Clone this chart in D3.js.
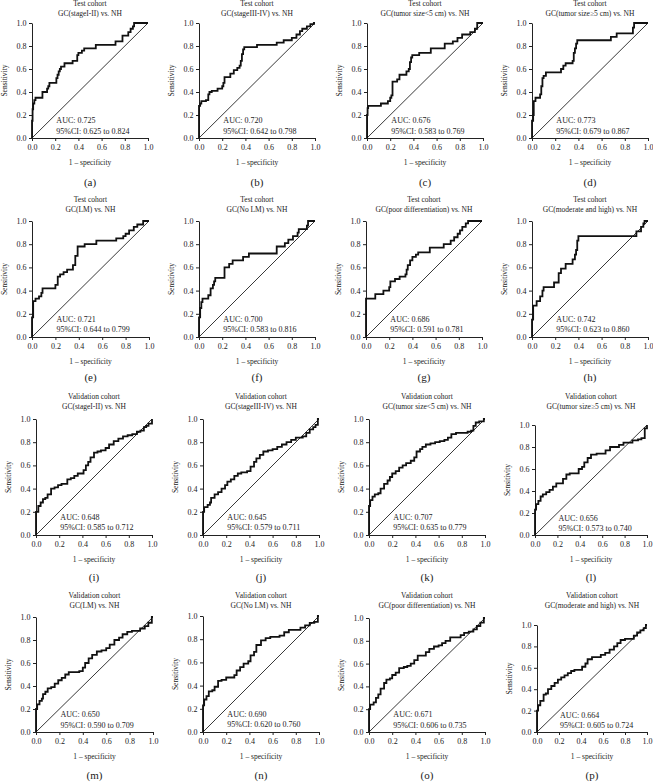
<!DOCTYPE html>
<html><head><meta charset="utf-8">
<script src="https://cdn.jsdelivr.net/npm/d3@7"></script>
<style>
body{margin:0;background:#fff;}
svg text{font-family:"Liberation Serif","DejaVu Serif",serif;fill:#222;}
</style></head>
<body><svg id="c" width="653" height="782"></svg>
<script>
// ---------- data ----------
const cohorts = ["Test cohort","Test cohort","Test cohort","Test cohort","Test cohort","Test cohort","Test cohort","Test cohort",
  "Validation cohort","Validation cohort","Validation cohort","Validation cohort","Validation cohort","Validation cohort","Validation cohort","Validation cohort"];
const groupNames = ["GC(stageI-II) vs. NH","GC(stageIII-IV) vs. NH","GC(tumor size<5 cm) vs. NH","GC(tumor size\u22655 cm) vs. NH",
  "GC(LM) vs. NH","GC(No LM) vs. NH","GC(poor differentiation) vs. NH","GC(moderate and high) vs. NH"];
const aucValues = ["0.725","0.720","0.676","0.773","0.721","0.700","0.686","0.742","0.648","0.645","0.707","0.656","0.650","0.690","0.671","0.664"];
const ciValues = ["0.625 to 0.824","0.642 to 0.798","0.583 to 0.769","0.679 to 0.867","0.644 to 0.799","0.583 to 0.816","0.591 to 0.781","0.623 to 0.860",
  "0.585 to 0.712","0.579 to 0.711","0.635 to 0.779","0.573 to 0.740","0.590 to 0.709","0.620 to 0.760","0.606 to 0.735","0.605 to 0.724"];
const panelLetters = ["a","b","c","d","e","f","g","h","i","j","k","l","m","n","o","p"];
const ticks = [0,0.2,0.4,0.6,0.8,1.0];

// ROC points [1-specificity, sensitivity] (step after)
const rocA = [[0,0],[0,0.15],[0.005,0.25],[0.01,0.3],[0.02,0.33],[0.03,0.35],[0.09,0.4],[0.13,0.43],[0.14,0.45],[0.15,0.48],[0.21,0.52],[0.22,0.55],[0.23,0.58],[0.24,0.6],[0.25,0.62],[0.28,0.65],[0.35,0.67],[0.39,0.72],[0.40,0.74],[0.43,0.76],[0.45,0.78],[0.55,0.81],[0.72,0.84],[0.78,0.89],[0.83,0.92],[0.85,0.95],[0.87,0.97],[0.88,1.0],[1,1]];
const rocB = [[0,0],[0,0.28],[0.01,0.3],[0.02,0.32],[0.06,0.33],[0.08,0.38],[0.09,0.4],[0.11,0.41],[0.16,0.43],[0.2,0.45],[0.21,0.48],[0.22,0.53],[0.27,0.56],[0.3,0.59],[0.33,0.61],[0.35,0.63],[0.36,0.67],[0.37,0.73],[0.38,0.77],[0.39,0.79],[0.5,0.81],[0.67,0.83],[0.73,0.85],[0.8,0.87],[0.84,0.9],[0.87,0.93],[0.89,0.95],[0.93,0.97],[0.96,0.99],[0.99,1.0],[1,1]];
const rocC = [[0,0],[0,0.2],[0.005,0.26],[0.01,0.28],[0.12,0.3],[0.18,0.32],[0.2,0.35],[0.21,0.37],[0.22,0.49],[0.26,0.51],[0.28,0.55],[0.34,0.58],[0.36,0.6],[0.37,0.66],[0.38,0.7],[0.39,0.72],[0.45,0.74],[0.55,0.78],[0.67,0.82],[0.74,0.84],[0.78,0.87],[0.82,0.9],[0.89,0.92],[0.93,0.95],[0.95,1.0],[1,1]];
const rocD = [[0,0],[0,0.15],[0.01,0.2],[0.015,0.32],[0.03,0.35],[0.07,0.38],[0.08,0.45],[0.09,0.52],[0.1,0.54],[0.12,0.57],[0.25,0.6],[0.27,0.63],[0.29,0.65],[0.35,0.67],[0.36,0.74],[0.37,0.78],[0.38,0.82],[0.39,0.85],[0.68,0.88],[0.73,0.91],[0.87,0.96],[0.88,1.0],[1,1]];
const rocE = [[0,0],[0,0.17],[0.01,0.31],[0.03,0.33],[0.06,0.35],[0.08,0.38],[0.09,0.42],[0.2,0.45],[0.22,0.52],[0.24,0.54],[0.27,0.56],[0.3,0.58],[0.35,0.62],[0.37,0.7],[0.39,0.78],[0.45,0.8],[0.55,0.83],[0.72,0.85],[0.78,0.87],[0.8,0.89],[0.83,0.92],[0.87,0.95],[0.9,0.97],[0.95,1.0],[1,1]];
const rocF = [[0,0],[0,0.17],[0.01,0.25],[0.02,0.3],[0.03,0.33],[0.08,0.36],[0.1,0.42],[0.12,0.45],[0.13,0.48],[0.14,0.51],[0.22,0.6],[0.26,0.63],[0.29,0.66],[0.38,0.69],[0.43,0.72],[0.67,0.78],[0.74,0.81],[0.77,0.84],[0.81,0.87],[0.85,0.9],[0.86,0.93],[0.93,0.96],[0.94,1.0],[1,1]];
const rocG = [[0,0],[0,0.33],[0.08,0.37],[0.15,0.4],[0.2,0.43],[0.21,0.48],[0.25,0.5],[0.29,0.52],[0.34,0.54],[0.35,0.58],[0.36,0.62],[0.38,0.66],[0.4,0.69],[0.43,0.71],[0.45,0.73],[0.55,0.77],[0.67,0.8],[0.73,0.83],[0.76,0.86],[0.79,0.89],[0.81,0.92],[0.83,0.95],[0.86,0.98],[0.88,1.0],[1,1]];
const rocH = [[0,0],[0,0.15],[0.01,0.27],[0.04,0.31],[0.07,0.35],[0.09,0.4],[0.1,0.43],[0.19,0.47],[0.23,0.55],[0.25,0.59],[0.29,0.63],[0.35,0.67],[0.37,0.71],[0.38,0.75],[0.39,0.83],[0.4,0.87],[0.9,0.91],[0.94,0.95],[0.96,0.98],[0.97,1.0],[1,1]];
const rocI = [[0,0],[0,0.2],[0.02,0.25],[0.04,0.28],[0.06,0.31],[0.08,0.32],[0.1,0.35],[0.13,0.4],[0.16,0.41],[0.19,0.43],[0.22,0.44],[0.27,0.48],[0.3,0.49],[0.33,0.51],[0.36,0.53],[0.41,0.56],[0.43,0.6],[0.45,0.63],[0.47,0.67],[0.5,0.71],[0.53,0.72],[0.56,0.73],[0.6,0.75],[0.63,0.78],[0.67,0.81],[0.71,0.83],[0.75,0.85],[0.79,0.86],[0.83,0.87],[0.87,0.89],[0.9,0.9],[0.93,0.93],[0.95,0.94],[0.97,0.96],[1,1]];
const rocJ = [[0,0],[0,0.2],[0.01,0.24],[0.04,0.26],[0.06,0.28],[0.07,0.32],[0.1,0.35],[0.13,0.37],[0.16,0.4],[0.19,0.43],[0.21,0.46],[0.24,0.48],[0.27,0.51],[0.3,0.53],[0.33,0.54],[0.38,0.55],[0.41,0.59],[0.44,0.63],[0.46,0.66],[0.49,0.69],[0.52,0.72],[0.56,0.73],[0.6,0.74],[0.64,0.76],[0.68,0.78],[0.72,0.8],[0.76,0.82],[0.8,0.84],[0.86,0.85],[0.89,0.88],[0.92,0.91],[0.95,0.93],[0.97,0.95],[0.99,1.0],[1,1]];
const rocK = [[0,0],[0,0.25],[0.01,0.3],[0.03,0.33],[0.05,0.35],[0.08,0.36],[0.1,0.4],[0.13,0.44],[0.16,0.47],[0.18,0.5],[0.2,0.53],[0.23,0.55],[0.26,0.58],[0.29,0.6],[0.32,0.62],[0.36,0.64],[0.39,0.67],[0.41,0.72],[0.44,0.74],[0.46,0.76],[0.49,0.78],[0.53,0.79],[0.57,0.8],[0.61,0.81],[0.65,0.82],[0.68,0.84],[0.71,0.87],[0.75,0.88],[0.85,0.89],[0.88,0.9],[0.9,0.94],[0.92,0.97],[0.95,0.98],[0.99,1.0],[1,1]];
const rocL = [[0,0],[0,0.23],[0.01,0.28],[0.03,0.31],[0.05,0.35],[0.07,0.37],[0.1,0.39],[0.13,0.41],[0.16,0.44],[0.19,0.47],[0.25,0.51],[0.28,0.55],[0.31,0.56],[0.39,0.6],[0.42,0.62],[0.44,0.66],[0.47,0.7],[0.5,0.73],[0.55,0.74],[0.63,0.77],[0.67,0.8],[0.75,0.82],[0.79,0.84],[0.87,0.86],[0.92,0.87],[0.95,0.88],[0.98,0.97],[1,1]];
const rocM = [[0,0],[0,0.2],[0.01,0.24],[0.03,0.27],[0.05,0.29],[0.06,0.33],[0.08,0.35],[0.1,0.38],[0.13,0.39],[0.16,0.42],[0.19,0.45],[0.22,0.47],[0.25,0.5],[0.28,0.52],[0.37,0.53],[0.4,0.56],[0.42,0.6],[0.45,0.64],[0.48,0.67],[0.52,0.7],[0.56,0.71],[0.6,0.73],[0.63,0.76],[0.67,0.8],[0.71,0.82],[0.74,0.85],[0.78,0.87],[0.82,0.88],[0.89,0.9],[0.93,0.92],[0.96,0.95],[0.99,1.0],[1,1]];
const rocN = [[0,0],[0,0.23],[0.01,0.28],[0.03,0.31],[0.05,0.35],[0.08,0.36],[0.1,0.39],[0.13,0.44],[0.16,0.45],[0.2,0.47],[0.27,0.49],[0.29,0.53],[0.32,0.56],[0.35,0.59],[0.39,0.61],[0.41,0.66],[0.44,0.69],[0.46,0.75],[0.5,0.79],[0.54,0.81],[0.58,0.82],[0.66,0.83],[0.7,0.86],[0.74,0.88],[0.84,0.9],[0.88,0.92],[0.92,0.94],[0.96,0.95],[0.99,1.0],[1,1]];
const rocO = [[0,0],[0,0.2],[0.01,0.24],[0.04,0.26],[0.06,0.3],[0.08,0.33],[0.1,0.38],[0.13,0.43],[0.15,0.46],[0.18,0.47],[0.2,0.5],[0.23,0.52],[0.26,0.56],[0.3,0.57],[0.33,0.58],[0.36,0.6],[0.39,0.63],[0.42,0.67],[0.49,0.7],[0.52,0.73],[0.56,0.75],[0.6,0.76],[0.63,0.78],[0.66,0.8],[0.7,0.83],[0.79,0.85],[0.82,0.87],[0.86,0.88],[0.9,0.9],[0.93,0.93],[0.96,0.96],[0.99,1.0],[1,1]];
const rocP = [[0,0],[0,0.2],[0.01,0.25],[0.03,0.29],[0.06,0.35],[0.08,0.36],[0.1,0.4],[0.13,0.43],[0.16,0.46],[0.19,0.49],[0.22,0.51],[0.25,0.53],[0.28,0.55],[0.31,0.57],[0.34,0.58],[0.41,0.61],[0.44,0.64],[0.46,0.68],[0.5,0.7],[0.58,0.72],[0.62,0.74],[0.66,0.77],[0.7,0.8],[0.73,0.83],[0.76,0.86],[0.8,0.87],[0.88,0.9],[0.91,0.93],[0.94,0.95],[0.97,0.97],[0.99,1.0],[1,1]];
const rocCurves = [rocA,rocB,rocC,rocD,rocE,rocF,rocG,rocH,rocI,rocJ,rocK,rocL,rocM,rocN,rocO,rocP];

// ---------- layout ----------
const boxes = [
  [32,23,116,115],[199,23,116,115],[367,23,116,115],[532,23,116,115],
  [32,221,117,116],[199,221,116,116],[366,221,116,116],[532,221,116,116],
  [36,419,116,116],[203,419,116,116],[369,419,116,116],[535,425,112,110],
  [36,617,117,115],[203,616,116,116],[369,618,116,114],[537,625,110,107]];
const titleY = [4,200,397,596];
const letterY = [183,378,578,776];

const svg = d3.select("#c");
rocCurves.forEach((data,i)=>{
  const [L,T,W,H] = boxes[i];
  const row = Math.floor(i/4);
  const x = d3.scaleLinear().domain([0,1]).range([L,L+W]);
  const y = d3.scaleLinear().domain([0,1]).range([T+H,T]);
  const g = svg.append("g");
  const fmt = d3.format(".1f");
  const xa = g.append("g").attr("transform",`translate(0,${T+H})`)
    .call(d3.axisBottom(x).tickValues(ticks).tickFormat(fmt).tickSize(3).tickSizeOuter(0).tickPadding(3));
  const ya = g.append("g").attr("transform",`translate(${L},0)`)
    .call(d3.axisLeft(y).tickValues(ticks).tickFormat(fmt).tickSize(3).tickSizeOuter(0).tickPadding(2.5));
  [xa,ya].forEach(a=>{
    a.selectAll("text").attr("font-size",8).attr("font-family","Liberation Serif").attr("fill","#222");
    a.selectAll("line").attr("stroke","#222");
    a.select(".domain").attr("stroke","#222");
  });
  // diagonal
  g.append("line").attr("x1",x(0)).attr("y1",y(0)).attr("x2",x(1)).attr("y2",y(1))
    .attr("stroke","#222").attr("stroke-width",0.9);
  // ROC
  const line = d3.line().x(d=>x(d[0])).y(d=>y(d[1])).curve(d3.curveStepAfter);
  g.append("path").datum(data).attr("d",line).attr("fill","none")
    .attr("stroke","#111").attr("stroke-width",1.8).attr("stroke-linejoin","miter");
  // titles
  const cx = L+W/2;
  g.append("text").attr("x",cx).attr("y",titleY[row]).attr("text-anchor","middle")
    .attr("dominant-baseline","middle").attr("font-size",7.5).text(cohorts[i]);
  g.append("text").attr("x",cx).attr("y",titleY[row]+10).attr("text-anchor","middle")
    .attr("dominant-baseline","middle").attr("font-size",7.5).text(groupNames[i%8]);
  // AUC
  g.append("text").attr("x",x(0.21)).attr("y",y(0.145)).attr("dominant-baseline","middle")
    .attr("font-size",8).text("AUC: "+aucValues[i]);
  g.append("text").attr("x",x(0.21)).attr("y",y(0.055)).attr("dominant-baseline","middle")
    .attr("font-size",8).text("95%CI: "+ciValues[i]);
  // axis labels
  g.append("text").attr("x",cx).attr("y",T+H+25).attr("text-anchor","middle")
    .attr("dominant-baseline","middle").attr("font-size",7.5).text("1 \u2013 specificity");
  g.append("text").attr("transform",`translate(${L-27},${T+H/2}) rotate(-90)`)
    .attr("text-anchor","middle").attr("dominant-baseline","middle").attr("font-size",7.5).text("Sensitivity");
  g.append("text").attr("x",cx).attr("y",letterY[row]).attr("text-anchor","middle")
    .attr("dominant-baseline","middle").attr("font-size",11).text("("+panelLetters[i]+")");
});
</script></body></html>
